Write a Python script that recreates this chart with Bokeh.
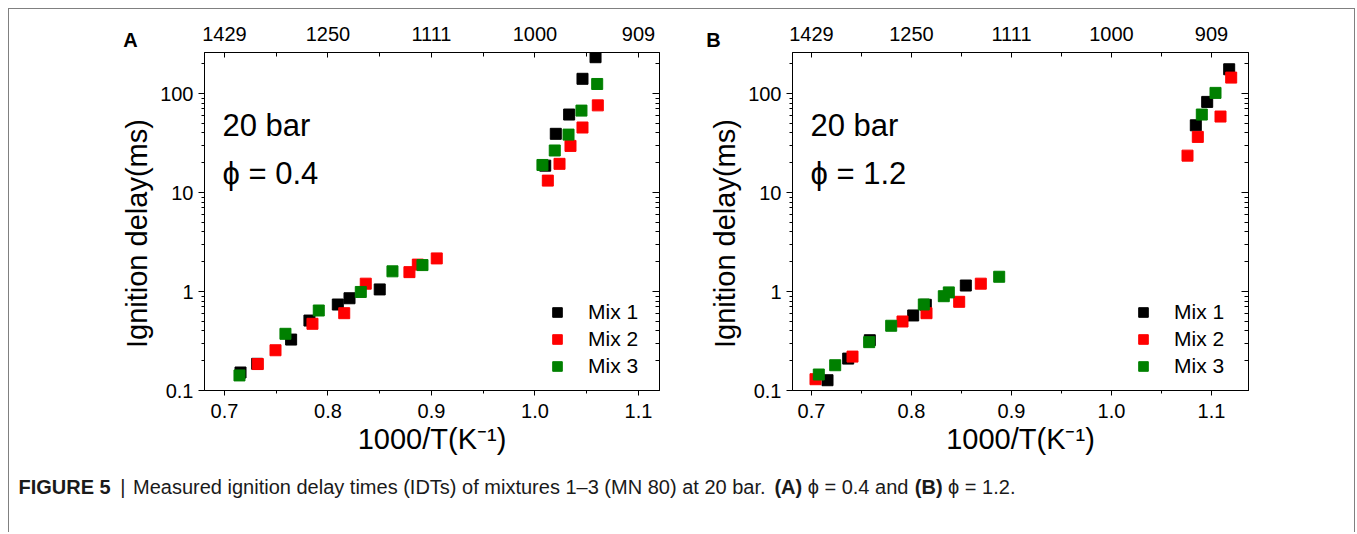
from bokeh.plotting import figure
from bokeh.models import (Range1d, LogAxis, LinearAxis, FixedTicker, Label, Legend,
                          LegendItem, ColumnDataSource, Spacer)
from bokeh.layouts import column, row
from bokeh.embed import file_html
from bokeh.resources import INLINE
from bokeh.core.properties import value

# ---------------- data ----------------
series_names = ["Mix 1", "Mix 2", "Mix 3"]
series_colors = ["#000000", "#ff0000", "#008000"]

x_ticks = [0.7, 0.8, 0.9, 1.0, 1.1]
x_minor = [0.75, 0.85, 0.95, 1.05]
temp_labels = ["1429", "1250", "1111", "1000", "909"]
y_ticks = [0.1, 1.0, 10.0, 100.0]
y_tick_labels = ["0.1", "1", "10", "100"]
y_minor = [0.2, 0.3, 0.4, 0.5, 0.6, 0.7, 0.8, 0.9, 2, 3, 4, 5, 6, 7, 8, 9,
           20, 30, 40, 50, 60, 70, 80, 90, 200]

# panel A  (phi = 0.4)
a_mix1_x = [0.7155, 0.7316, 0.7644, 0.7821, 0.8095, 0.8208, 0.8500, 1.0099, 1.0201, 1.0330, 1.0459, 1.0585]
a_mix1_y = [0.152, 0.186, 0.327, 0.509, 0.739, 0.855, 1.05, 18.7, 39.2, 61.4, 141, 233]
a_mix2_x = [0.7322, 0.7493, 0.7850, 0.8157, 0.8365, 0.8787, 0.8868, 0.9051, 1.0124, 1.0237, 1.0343, 1.0459, 1.0607]
a_mix2_y = [0.185, 0.255, 0.472, 0.604, 1.20, 1.57, 1.87, 2.16, 13.2, 19.5, 29.6, 45.4, 76]
a_mix3_x = [0.7145, 0.7589, 0.7911, 0.8317, 0.8623, 0.8913, 1.0072, 1.0191, 1.0324, 1.0449, 1.0601]
a_mix3_y = [0.142, 0.374, 0.643, 0.99, 1.60, 1.85, 19.0, 26.6, 38.5, 67.3, 125]

# panel B  (phi = 1.2)
b_mix1_x = [0.7160, 0.7367, 0.7583, 0.8017, 0.8143, 0.8543, 1.0843, 1.0957, 1.1177]
b_mix1_y = [0.127, 0.210, 0.322, 0.573, 0.734, 1.15, 47.8, 82.4, 176]
b_mix2_x = [0.7040, 0.7410, 0.7910, 0.8150, 0.8477, 0.8693, 1.0760, 1.0863, 1.1090, 1.1197]
b_mix2_y = [0.130, 0.220, 0.498, 0.604, 0.787, 1.20, 23.6, 36.5, 58.6, 145]
b_mix3_x = [0.7073, 0.7237, 0.7577, 0.7797, 0.8123, 0.8323, 0.8373, 0.8877, 1.0903, 1.1040]
b_mix3_y = [0.145, 0.180, 0.308, 0.451, 0.74, 0.897, 0.98, 1.41, 61.4, 101.6]

caption_parts = [("FIGURE 5", True), ("|", False),
                 ("Measured ignition delay times (IDTs) of mixtures 1–3 (MN 80) at 20 bar.", False),
                 ("(A)", True), ("ϕ = 0.4 and", False), ("(B)", True), ("ϕ = 1.2.", False)]

FONT = "Liberation Sans"
TICK_FS = "20px"
LABEL_FS = "29px"
NB = "\u00a0"


def style_axis(ax):
    ax.axis_line_color = "black"
    ax.major_tick_line_color = "black"
    ax.minor_tick_line_color = "black"
    ax.major_label_text_font = FONT
    ax.major_label_text_font_size = TICK_FS
    ax.major_label_text_color = "black"
    ax.axis_label_text_font = FONT
    ax.axis_label_text_font_size = LABEL_FS
    ax.axis_label_text_font_style = "normal"
    ax.axis_label_text_color = "black"


def build_panel(xs, ys, x_start, x_end, width, left, right, phi_text, legend_x):
    p = figure(width=width, height=457, x_range=Range1d(x_start, x_end),
               y_range=Range1d(0.1, 260), y_axis_type="log",
               output_backend="svg", toolbar_location=None,
               min_border_left=left, min_border_right=right,
               min_border_top=43, min_border_bottom=76)
    p.grid.visible = False
    p.outline_line_color = "black"
    p.background_fill_color = "white"
    p.border_fill_color = "white"

    xb = p.xaxis[0]
    style_axis(xb)
    xb.ticker = FixedTicker(ticks=x_ticks, minor_ticks=x_minor)
    xb.major_label_overrides = {t: f"{t:.1f}" for t in x_ticks}
    xb.major_tick_in = 0
    xb.major_tick_out = 5
    xb.minor_tick_in = 0
    xb.minor_tick_out = 3
    xb.major_label_standoff = 8
    xb.axis_label = "1000/T(K⁻¹)"
    xb.axis_label_standoff = 2

    yl = p.yaxis[0]
    style_axis(yl)
    yl.ticker = FixedTicker(ticks=y_ticks, minor_ticks=y_minor)
    yl.major_label_overrides = dict(zip(y_ticks, y_tick_labels))
    yl.major_tick_in = 0
    yl.major_tick_out = 6
    yl.minor_tick_in = 0
    yl.minor_tick_out = 3
    yl.major_label_standoff = 5
    yl.axis_label = "Ignition delay(ms)" + NB * 3
    yl.axis_label_standoff = 4

    top = LinearAxis(ticker=FixedTicker(ticks=x_ticks, minor_ticks=x_minor),
                     major_label_overrides=dict(zip(x_ticks, temp_labels)))
    style_axis(top)
    top.major_tick_in = 5
    top.major_tick_out = 0
    top.minor_tick_in = 4
    top.minor_tick_out = 0
    top.major_label_standoff = 12
    p.add_layout(top, "above")

    rgt = LogAxis(ticker=FixedTicker(ticks=y_ticks, minor_ticks=y_minor),
                  major_label_overrides={t: "" for t in y_ticks})
    style_axis(rgt)
    rgt.major_label_standoff = 0
    rgt.major_tick_in = 7
    rgt.major_tick_out = 0
    rgt.minor_tick_in = 4
    rgt.minor_tick_out = 0
    p.add_layout(rgt, "right")

    items = []
    for xv, yv, name, col in zip(xs, ys, series_names, series_colors):
        src = ColumnDataSource(dict(x=xv, y=yv))
        r = p.scatter("x", "y", source=src, marker="square", size=11,
                      fill_color=col, line_color=col)
        items.append(LegendItem(label=name, renderers=[r]))

    leg = Legend(items=items, location=(legend_x, 12))
    leg.padding = 0
    leg.margin = 0
    leg.spacing = 3
    leg.glyph_width = 24
    leg.glyph_height = 24
    leg.label_standoff = 19
    leg.label_text_font = FONT
    leg.label_text_font_size = "21px"
    leg.label_text_color = "black"
    leg.border_line_color = None
    leg.background_fill_alpha = 0
    p.add_layout(leg)

    p.add_layout(Label(x=18, y=265, x_units="screen", y_units="screen", text="20 bar",
                       text_font=FONT, text_font_size="31px",
                       text_align="left", text_baseline="middle", text_color="black"))
    p.add_layout(Label(x=18, y=217, x_units="screen", y_units="screen", text=phi_text,
                       text_font=FONT, text_font_size="31px",
                       text_align="left", text_baseline="middle", text_color="black"))
    return p


def letter_fig(letter, left, top):
    f = figure(width=30, height=30, x_range=Range1d(0, 30), y_range=Range1d(0, 30),
               output_backend="svg", toolbar_location=None, min_border=0,
               x_axis_location=None, y_axis_location=None,
               styles={"position": "absolute", "left": f"{left}px", "top": f"{top}px",
                       "z-index": "10"})
    f.grid.visible = False
    f.outline_line_color = None
    f.background_fill_alpha = 0
    f.border_fill_alpha = 0
    f.text(x=[15], y=[15], text=[letter], text_font=value(FONT), text_font_size="20px",
           text_font_style="bold", text_align="center", text_baseline="middle",
           text_color="black")
    return f


pA = build_panel([a_mix1_x, a_mix2_x, a_mix3_x], [a_mix1_y, a_mix2_y, a_mix3_y],
                 0.6807, 1.1203, 692, 195, 42, "ϕ = 0.4", 341)
pB = build_panel([b_mix1_x, b_mix2_x, b_mix3_x], [b_mix1_y, b_mix2_y, b_mix3_y],
                 0.681, 1.137, 653, 91, 106, "ϕ = 1.2", 339)

# ---------------- caption ----------------
NORMAL_W = {' ': 278, '(': 333, ')': 333, '.': 278, '=': 584, '|': 260, '–': 556, 'ϕ': 600,
            'A': 667, 'B': 667, 'D': 722, 'E': 667, 'F': 611, 'G': 778, 'I': 278, 'M': 833,
            'N': 722, 'R': 722, 'S': 667, 'T': 611, 'U': 722,
            'a': 556, 'b': 556, 'c': 500, 'd': 556, 'e': 556, 'f': 278, 'g': 556, 'h': 556,
            'i': 222, 'l': 222, 'm': 833, 'n': 556, 'o': 556, 'r': 333, 's': 500, 't': 278,
            'u': 556, 'x': 500, 'y': 500}
BOLD_W = {' ': 278, '(': 333, ')': 333, 'A': 722, 'B': 722, 'E': 667, 'F': 611, 'G': 778,
          'I': 278, 'R': 722, 'U': 722}
CAP_FS = 20


def text_w(s, bold):
    tab = BOLD_W if bold else NORMAL_W
    return sum(tab.get(c, 556) for c in s) / 1000.0 * CAP_FS


CAP_W, CAP_H = 1345, 66
cap = figure(width=CAP_W, height=CAP_H, x_range=Range1d(0, CAP_W), y_range=Range1d(0, CAP_H),
             output_backend="svg", toolbar_location=None, min_border=0,
             x_axis_location=None, y_axis_location=None)
cap.grid.visible = False
cap.outline_line_color = None
cap.background_fill_color = "white"
cap.border_fill_color = "white"

xs_b, xs_n, t_b, t_n = [], [], [], []
xpos = 9.0
gap = 0.278 * CAP_FS
for txt, bold in caption_parts:
    if txt == "|":
        xpos += 2
    if bold:
        xs_b.append(xpos); t_b.append(txt)
    else:
        xs_n.append(xpos); t_n.append(txt)
    xpos += text_w(txt, bold) + gap + (2 if txt in ("|", "FIGURE 5") else 0)

CAP_Y = 46
cap.text(x=xs_b, y=[CAP_Y] * len(xs_b), text=t_b, text_font=value(FONT),
         text_font_size=f"{CAP_FS}px", text_font_style="bold",
         text_baseline="middle", text_align="left", text_color="#1a1a1a")
cap.text(x=xs_n, y=[CAP_Y] * len(xs_n), text=t_n, text_font=value(FONT),
         text_font_size=f"{CAP_FS}px", text_baseline="middle", text_align="left",
         text_color="#1a1a1a")

framed = column(row(pA, pB), cap,
                styles={"border-left": "1px solid #808080", "border-top": "1px solid #808080",
                        "border-right": "1px solid #808080", "background": "white"})
layout = column(Spacer(height=8), row(Spacer(width=8), framed))

letterA = letter_fig("A", 115, 24)
letterB = letter_fig("B", 698, 24)

open("out.html", "w").write(file_html([layout, letterA, letterB], INLINE))
